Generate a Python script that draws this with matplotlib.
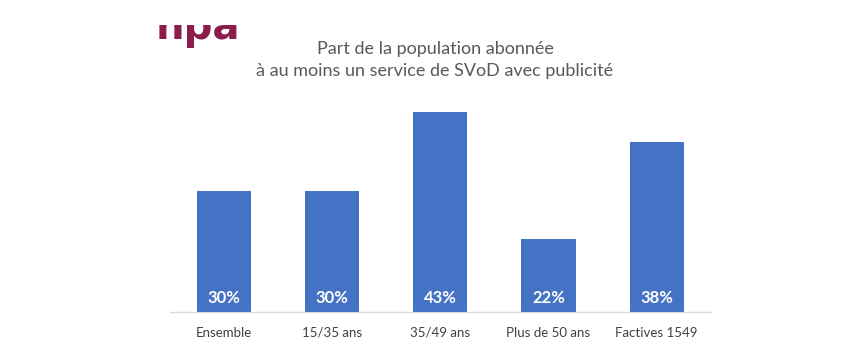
import numpy as np
import matplotlib

matplotlib.use("Agg")
import matplotlib.pyplot as plt
from matplotlib.patches import Rectangle

CATEGORIES = ["Ensemble", "15/35 ans", "35/49 ans", "Plus de 50 ans", "Factives 1549"]
SHARES = [30, 30, 43, 22, 38]          # % abonnés SVoD avec pub
TITLE = "Part de la population abonnée\nà au moins un service de SVoD avec publicité"

BAR = "#4472C4"
GREY = "#595959"
LOGO = "#8C1C4B"

plt.rcParams["font.family"] = ["Lato", "DejaVu Sans"]

fig = plt.figure(figsize=(8.67, 3.45), dpi=100)
ax = fig.add_axes([170 / 867, 33.5 / 345, 540.7 / 867, 211.5 / 345])

x = np.arange(len(CATEGORIES))
ax.bar(x, SHARES, width=0.5, color=BAR, zorder=3)
ymin = 10
for xi, v in zip(x, SHARES):
    ax.text(xi, ymin + 2.3, f"{v}%", ha="center", va="center", color="white",
            fontsize=12, fontweight="bold", zorder=4)

ax.set_xlim(-0.5, len(CATEGORIES) - 0.5)
ax.set_ylim(ymin, 45)
ax.set_xticks(x)
ax.set_xticklabels(CATEGORIES, fontsize=9.5, color="#404040")
ax.tick_params(axis="x", length=0, pad=11)
ax.set_yticks([])
ax.spines[["top", "right", "left"]].set_visible(False)
ax.spines["bottom"].set_color("#D9D9D9")
ax.spines["bottom"].set_linewidth(1.0)

fig.text(435 / 867, 1 - 60 / 345, TITLE, ha="center", va="center",
         fontsize=13, color=GREY, linespacing=1.45)

# logo, cut at the top as in the slide
lax = fig.add_axes([150 / 867, 1 - 48 / 345, 100 / 867, 23 / 345])
lax.set_axis_off()
lax.set_xlim(0, 1); lax.set_ylim(0, 1)
lax.text(0.06, 0.0, "npa", ha="left", va="bottom", fontsize=29,
         fontweight="heavy", color=LOGO, family="DejaVu Sans")
lax.add_patch(Rectangle((140 / 867, 1 - 25 / 345), 120 / 867, 25 / 345,
                        transform=fig.transFigure, facecolor="white",
                        edgecolor="none", zorder=10, clip_on=False))

fig.savefig("out.png", dpi=100)
